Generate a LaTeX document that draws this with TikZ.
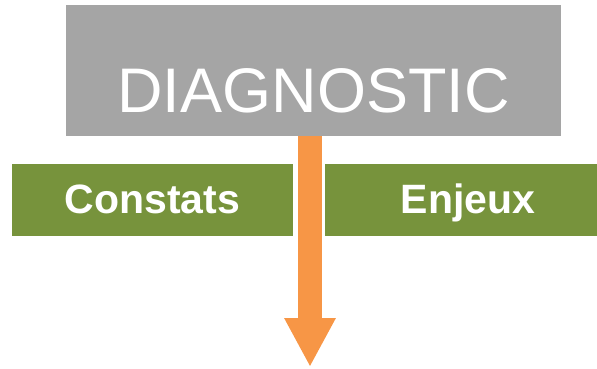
\documentclass[tikz,border=0pt]{standalone}
\usepackage{fontspec}
\setmainfont{Liberation Sans}
\usetikzlibrary{arrows.meta}
\definecolor{diaggray}{HTML}{A5A5A5}
\definecolor{boxgreen}{HTML}{77933C}
\definecolor{arroworange}{HTML}{F79646}

\begin{document}
\begin{tikzpicture}[x=1pt,y=1pt,
    graybox/.style={fill=diaggray, minimum width=495pt, minimum height=131pt, inner sep=0pt},
    greenbox/.style={fill=boxgreen, text=white, minimum height=72pt, inner sep=0pt,
        text height=32pt, text depth=6pt, font=\fontsize{41}{41}\selectfont\bfseries}]
    \useasboundingbox (0,0) rectangle (597,368);
    \draw (313.5,297.5) node[graybox] (diag) {};
    \draw (313.5,256) node[anchor=base, text=white, inner sep=0pt,
        font=\fontsize{63}{63}\selectfont] (diagtxt) {DIAGNOSTIC};
    \draw (152.5,168) node[greenbox, minimum width=281pt] (constats) {Constats};
    \draw (461,168) node[greenbox, minimum width=272pt] (enjeux) {\hspace*{14pt}Enjeux};
    \coordinate (tip) at (310,1);
    \draw [arroworange, line width=24pt, -{Triangle[width=48pt,length=49pt]}] (diag.south -| tip) -- (tip);
\end{tikzpicture}
\end{document}
